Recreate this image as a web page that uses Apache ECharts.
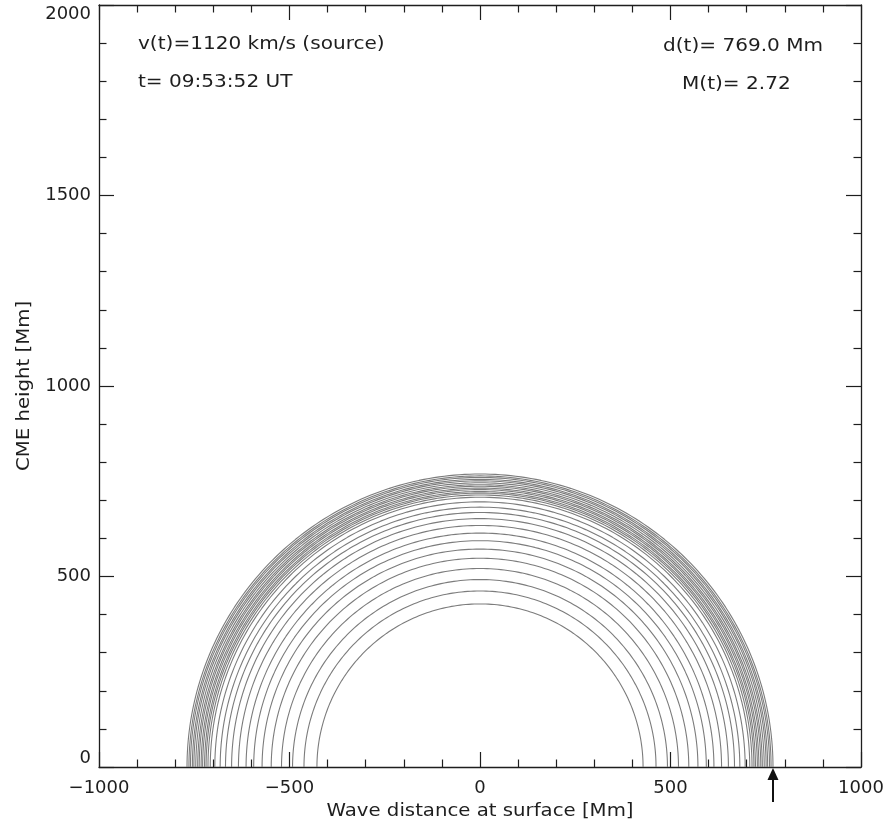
<!DOCTYPE html>
<html>
<head>
<meta charset="utf-8">
<script src="https://cdn.jsdelivr.net/npm/echarts@6/dist/echarts.min.js"></script>
<style>
  html, body { margin: 0; padding: 0; background: #fff; }
  #chart { width: 888px; height: 830px; }
</style>
</head>
<body>
<div id="chart"></div>
<script>
// Wavefront radii [Mm] of the expanding CME dome, one semicircle per time step
const radii = [428, 462, 492, 521, 548, 572, 594, 614, 634, 652, 668, 682, 696, 708,
               714, 719, 723, 728, 732, 737, 741, 746, 751, 755, 760, 764, 769];
// Current wave distance at the surface [Mm], marked by the arrow
const waveDistance = 769.0;
const xTicks = [-1000, -500, 0, 500, 1000];
const yTicks = [0, 500, 1000, 1500, 2000];
const infoLeft = ['v(t)=1120 km/s (source)', 't= 09:53:52 UT'];
const infoRight = ['d(t)= ' + waveDistance.toFixed(1) + ' Mm', 'M(t)= 2.72'];
const xTitle = 'Wave distance at surface [Mm]';
const yTitle = 'CME height [Mm]';

const FONT = 'DejaVu Sans';
const INK = '#1e1e1e';
const CURVE = '#7c7c7c';
const STRETCH = 1.18;   // wide, plotter-style lettering

function semicircle(r) {
  const pts = [];
  for (let i = 0; i <= 180; i++) {
    const a = i * Math.PI / 180;
    pts.push([r * Math.cos(a), r * Math.sin(a)]);
  }
  return pts;
}

const fmt = v => String(v).replace('-', '\u2212');

const frameAxis = {
  interval: 500,
  axisLine: { show: true, onZero: false, lineStyle: { color: INK, width: 1.3 } },
  axisTick: { show: true, inside: true, length: 15, lineStyle: { color: INK, width: 1.2 } },
  minorTick: { show: true, splitNumber: 5, length: 7.5, lineStyle: { color: INK, width: 1.2 } },
  splitLine: { show: false }
};

function xAxisDef(pos, labels) {
  return Object.assign({}, frameAxis, {
    type: 'value', position: pos, min: xTicks[0], max: xTicks[xTicks.length - 1],
    axisLabel: {
      show: labels, margin: 12, fontFamily: FONT, fontSize: 18, color: INK,
      formatter: fmt
    }
  });
}
function yAxisDef(pos, labels) {
  return Object.assign({}, frameAxis, {
    type: 'value', position: pos, min: yTicks[0], max: yTicks[yTicks.length - 1],
    axisLabel: {
      show: labels, margin: 8, fontFamily: FONT, fontSize: 18, color: INK,
      verticalAlignMaxLabel: 'top', verticalAlignMinLabel: 'bottom',
      formatter: fmt
    }
  });
}

const series = radii.map(r => ({
  type: 'line', xAxisIndex: 0, yAxisIndex: 0,
  data: semicircle(r), showSymbol: false, symbol: 'none',
  lineStyle: { color: CURVE, width: 1.1 }, silent: true, animation: false
}));

// Arrow below the x axis pointing at the current wave distance
series.push({
  type: 'custom', xAxisIndex: 0, yAxisIndex: 0, clip: false, silent: true,
  animation: false,
  data: [[waveDistance, 0]],
  renderItem: function (params, api) {
    const p = api.coord([api.value(0), api.value(1)]);
    return {
      type: 'group',
      children: [
        { type: 'line', shape: { x1: p[0], y1: p[1] + 10, x2: p[0], y2: p[1] + 35 },
          style: { stroke: '#111', lineWidth: 2 } },
        { type: 'polygon', shape: { points: [[p[0], p[1] + 1], [p[0] - 5.5, p[1] + 13], [p[0] + 5.5, p[1] + 13]] },
          style: { fill: '#111' } }
      ]
    };
  }
});

// Text placed by its left edge / vertical centre, stretched horizontally
function infoText(str, x, yc) {
  return {
    type: 'text', x: x, y: yc, scaleX: STRETCH,
    style: { text: str, fontFamily: FONT, fontSize: 17, fill: INK,
             align: 'left', verticalAlign: 'middle' }
  };
}
function titleText(str, x, yc, rot) {
  return {
    type: 'text', x: x, y: yc, scaleX: 1.16, rotation: rot || 0,
    style: { text: str, fontFamily: FONT, fontSize: 17, fill: INK,
             align: 'center', verticalAlign: 'middle' }
  };
}

const chart = echarts.init(document.getElementById('chart'), null, { renderer: 'canvas' });
chart.setOption({
  animation: false,
  backgroundColor: '#fff',
  grid: { left: 99, right: 27, top: 5, bottom: 63, containLabel: false },
  xAxis: [xAxisDef('bottom', true), xAxisDef('top', false)],
  yAxis: [yAxisDef('left', true), yAxisDef('right', false)],
  series: series,
  graphic: [
    infoText(infoLeft[0], 138, 45),
    infoText(infoLeft[1], 138, 83),
    infoText(infoRight[0], 663, 47),
    infoText(infoRight[1], 682, 85),
    titleText(xTitle, 480, 812),
    titleText(yTitle, 25, 386, Math.PI / 2)
  ]
});
</script>
</body>
</html>
